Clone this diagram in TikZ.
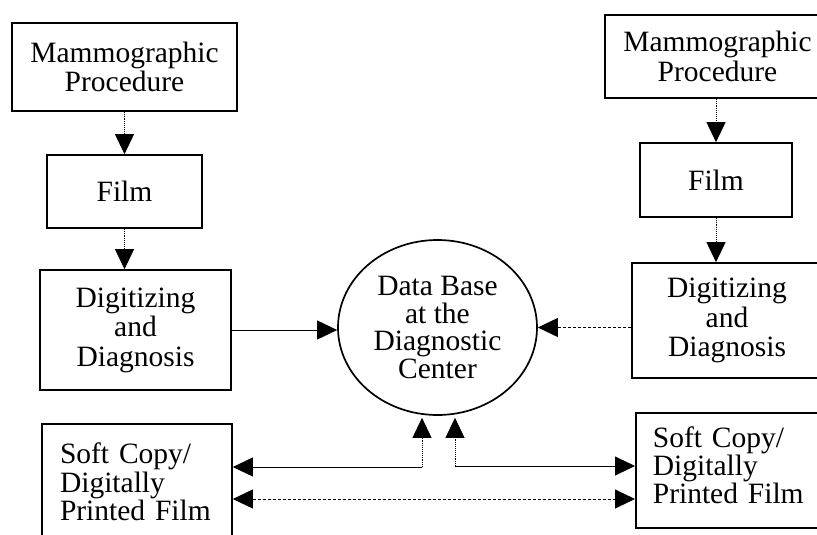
\documentclass[tikz,border=0pt]{standalone}
\usepackage{fontspec}
\setmainfont{Liberation Serif}
\usetikzlibrary{arrows.meta,shapes.geometric}
\begin{document}
\begin{tikzpicture}[x=1pt,y=-1pt,
  box/.style={draw,line width=1.7pt,inner sep=0pt,align=center,font=\fontsize{29.5}{29.5}\selectfont},
  lbox/.style={draw,line width=1.7pt,inner ysep=0pt,align=left,font=\fontsize{29.5}{28.5}\selectfont},
  dbnode/.style={draw,ellipse,line width=1.7pt,inner sep=0pt,align=center,font=\fontsize{29.5}{27.5}\selectfont},
  conn/.style={line width=0.9pt,-{Triangle[length=20pt,width=19pt]}},
  vconn/.style={conn,densely dotted},
  dconn/.style={line width=0.9pt,{Triangle[length=20pt,width=19pt]}-{Triangle[length=20pt,width=19pt]}}
]
\useasboundingbox (0,0) rectangle (817,535);
% left column
\node[box,minimum width=225pt,minimum height=88pt] (lmam) at (124.5,67) {Mammographic\\Procedure};
\node[box,minimum width=155pt,minimum height=73pt] (lfilm) at (124.5,191.5) {Film};
\node[box,minimum width=191pt,minimum height=120pt] (ldig) at (135.5,330) {Digitizing\\and\\Diagnosis};
\node[lbox,inner xsep=18pt,text width=154pt,minimum height=116pt] (lsoft) at (137,482) {Soft Copy/\\Digitally\\Printed Film};
% right column
\node[box,minimum width=225pt,minimum height=83pt] (rmam) at (717.5,56.5) {Mammographic\\Procedure};
\node[box,minimum width=152pt,minimum height=74pt] (rfilm) at (716,180) {Film};
\node[box,minimum width=190pt,minimum height=115pt] (rdig) at (727,320.5) {Digitizing\\and\\Diagnosis};
\node[lbox,inner xsep=17pt,text width=190pt,minimum height=115pt,anchor=west,font=\fontsize{29.5}{26.5}\selectfont,text depth=66pt] (rsoft) at (635,470.5) {Soft Copy/\\Digitally\\Printed Film};
% data base
\node[dbnode,minimum width=199pt,minimum height=175pt] (db) at (437.5,327.5) {Data Base\\at the\\Diagnostic\\Center};
% junctions
\coordinate (j1) at (422,467);
\coordinate (j2) at (455,466);
\coordinate (j3) at (437,499);
% vertical flow
\draw[vconn] (lmam.south -| lfilm.north) -- (lfilm.north);
\draw[vconn] (lfilm.south) -- (lfilm.south |- ldig.north);
\draw[vconn] (rfilm.north |- rmam.south) -- (rfilm.north);
\draw[vconn] (rfilm.south) -- (rfilm.south |- rdig.north);
% to data base
\draw[conn] (ldig.east) -- (ldig.east -| db.west);
\draw[conn,densely dashed] (db.east -| rdig.west) -- (db.east);
% bottom links
\draw[conn] (j1) -- (lsoft.east |- j1);
\draw[vconn,shorten >=2pt] (j1) -- (j1 |- db.south);
\draw[conn] (j2) -- (rsoft.west |- j2);
\draw[vconn,shorten >=2pt] (j2) -- (j2 |- db.south);
\draw[dconn,densely dashed] (lsoft.east |- j3) -- (rsoft.west |- j3);
\end{tikzpicture}
\end{document}
